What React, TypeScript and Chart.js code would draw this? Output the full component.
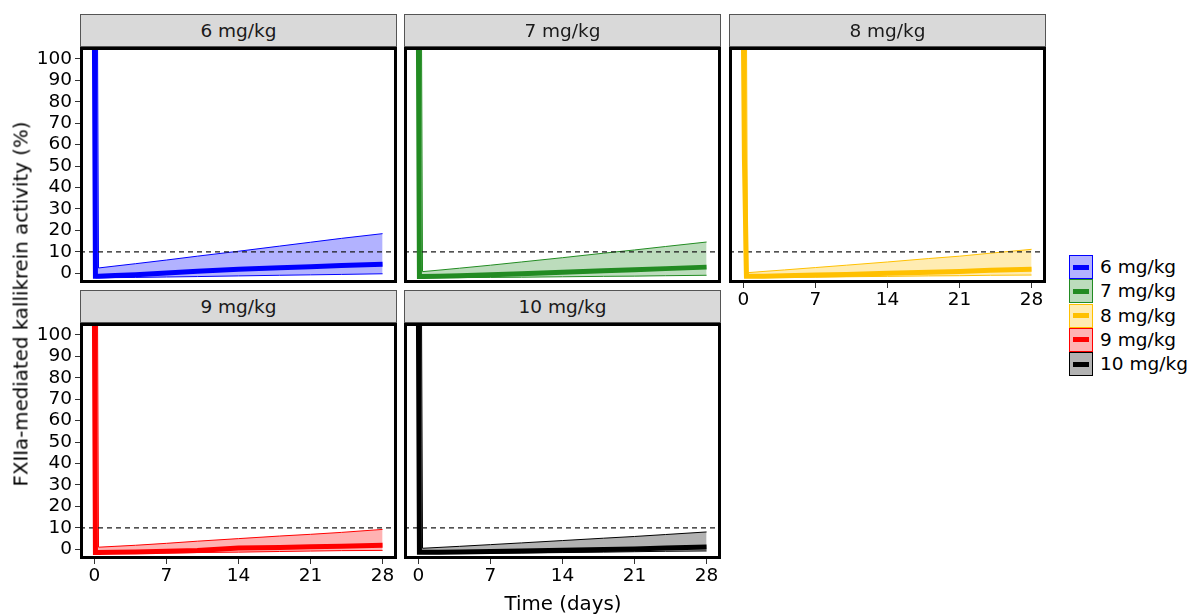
import React, { useEffect, useRef } from "react";
import { Chart, registerables } from "chart.js";

Chart.register(...registerables);

// ---------- data ----------
const times = [0, 0.1, 0.3, 0.4, 2, 4, 7, 10, 14, 18, 21, 24, 28];
const xTicks = [0, 7, 14, 21, 28];
const yTicks = [0, 10, 20, 30, 40, 50, 60, 70, 80, 90, 100];
const threshold = 10;
const doseLabels = ["6 mg/kg", "7 mg/kg", "8 mg/kg", "9 mg/kg", "10 mg/kg"];

const median6 = [110, -1.4, -1.4, -1.4, -1.0, -0.6, 0.2, 1.0, 1.9, 2.6, 3.1, 3.6, 4.2];
const lower6 = [100, -2.1, -2.1, -2.1, -2.0, -1.9, -1.7, -1.5, -1.2, -0.9, -0.7, -0.5, -0.2];
const upper6 = [110, 110, 110, 2.5, 3.4, 4.5, 6.2, 8.0, 10.3, 12.7, 14.5, 16.3, 18.5];

const median7 = [110, -1.5, -1.5, -1.5, -1.3, -1.1, -0.7, -0.2, 0.5, 1.2, 1.7, 2.2, 2.9];
const lower7 = [100, -2.1, -2.1, -2.1, -2.0, -2.0, -1.9, -1.8, -1.6, -1.4, -1.3, -1.1, -0.9];
const upper7 = [110, 110, 110, 0.8, 1.5, 2.4, 3.8, 5.3, 7.3, 9.4, 10.9, 12.5, 14.6];

const median8 = [110, 53, -1.4, -1.4, -1.3, -1.1, -0.8, -0.5, 0.0, 0.5, 0.9, 1.4, 1.9];
const lower8 = [100, -2.0, -2.0, -2.0, -2.0, -1.9, -1.8, -1.6, -1.4, -1.2, -1.1, -0.9, -0.8];
const upper8 = [110, 110, 110, 0.3, 0.9, 1.6, 2.7, 3.8, 5.3, 6.9, 8.0, 9.4, 11.2];

const median9 = [110, -1.5, -1.5, -1.5, -1.4, -1.2, -0.9, -0.5, 0.6, 0.9, 1.2, 1.5, 1.9];
const lower9 = [100, -2.0, -2.0, -2.0, -1.9, -1.8, -1.7, -1.5, -1.3, -1.0, -0.8, -0.6, -0.5];
const upper9 = [110, 110, 110, 1.0, 1.4, 1.9, 2.8, 3.8, 5.0, 6.2, 7.0, 7.9, 9.3];

const median10 = [110, -1.4, -1.4, -1.4, -1.3, -1.2, -1.0, -0.8, -0.4, -0.1, 0.2, 0.6, 1.1];
const lower10 = [100, -2.0, -2.0, -2.0, -2.0, -1.9, -1.8, -1.7, -1.5, -1.3, -1.1, -0.9, -0.75];
const upper10 = [110, 110, 110, 0.5, 0.9, 1.4, 2.2, 3.0, 4.1, 5.2, 6.0, 6.9, 8.1];

const lineColors = ["#0000FF", "#228B22", "#FFC000", "#FF0000", "#000000"];
const fillColors = [
  "rgba(0,0,255,0.3)",
  "rgba(34,139,34,0.3)",
  "rgba(255,192,0,0.3)",
  "rgba(255,0,0,0.3)",
  "rgba(0,0,0,0.3)",
];

const medians = [median6, median7, median8, median9, median10];
const lowers = [lower6, lower7, lower8, lower9, lower10];
const uppers = [upper6, upper7, upper8, upper9, upper10];

// axis limits
const X_MIN = -1.4;
const X_MAX = 29.4;
const Y_MIN = -4.5;
const Y_MAX = 105.5;

// ---------- layout ----------
const FONT = "'DejaVu Sans', Verdana, sans-serif";
const FS = 18.5;
const TITLE_FS = 19.8;
const COL_L = [80, 404, 729];
const ROW_T = [47, 323];
const PW = 317;
const PH = 236;
const STRIP_H = 33;
const AXW = 60;
const AXH = 40;
const PAD = 4;

const panelPos = [
  { col: 0, row: 0, showX: false, showY: true },
  { col: 1, row: 0, showX: false, showY: false },
  { col: 2, row: 0, showX: true, showY: false },
  { col: 0, row: 1, showX: true, showY: true },
  { col: 1, row: 1, showX: true, showY: false },
];

const toPts = (ys: number[]) => ys.map((y, i) => ({ x: times[i], y }));

const borderPlugin = {
  id: "panelBorder",
  afterDraw(chart: any) {
    const { ctx, chartArea } = chart;
    ctx.save();
    ctx.strokeStyle = "#000";
    ctx.lineWidth = 3;
    ctx.strokeRect(
      chartArea.left + 1.5,
      chartArea.top + 1.5,
      chartArea.right - chartArea.left - 3,
      chartArea.bottom - chartArea.top - 3
    );
    ctx.restore();
  },
};

function Panel({ idx }: { idx: number }) {
  const ref = useRef<HTMLCanvasElement | null>(null);
  const pos = panelPos[idx];
  const L = COL_L[pos.col];
  const T = ROW_T[pos.row];
  const cw = AXW + PW + PAD;
  const ch = PAD + PH + AXH;

  useEffect(() => {
    const color = lineColors[idx];
    const fill = fillColors[idx];
    const chart = new Chart(ref.current as HTMLCanvasElement, {
      type: "line",
      data: {
        datasets: [
          {
            label: "lower",
            data: toPts(lowers[idx]),
            borderColor: color,
            borderWidth: 1,
            backgroundColor: fill,
            pointRadius: 0,
            fill: false,
            clip: 0,
            order: 3,
          },
          {
            label: "upper",
            data: toPts(uppers[idx]),
            borderColor: color,
            borderWidth: 1,
            backgroundColor: fill,
            pointRadius: 0,
            fill: 0,
            clip: 0,
            order: 2,
          },
          {
            label: "threshold",
            data: [
              { x: X_MIN, y: threshold },
              { x: X_MAX, y: threshold },
            ],
            borderColor: "#1A1A1A",
            borderWidth: 1.2,
            borderDash: [5, 4],
            pointRadius: 0,
            fill: false,
            clip: 0,
            order: 1,
          },
          {
            label: doseLabels[idx],
            data: toPts(medians[idx]),
            borderColor: color,
            borderWidth: 5,
            pointRadius: 0,
            fill: false,
            clip: 0,
            borderJoinStyle: "miter",
            order: 0,
          },
        ] as any,
      },
      options: {
        responsive: false,
        animation: false,
        events: [],
        layout: {
          autoPadding: false,
          padding: { top: PAD, right: PAD, left: 0, bottom: 0 },
        } as any,
        plugins: {
          legend: { display: false },
          tooltip: { enabled: false },
          title: { display: false },
        },
        scales: {
          x: {
            type: "linear",
            min: X_MIN,
            max: X_MAX,
            display: pos.showX,
            offset: false,
            afterBuildTicks: (s: any) => {
              s.ticks = xTicks.map((v) => ({ value: v }));
            },
            afterFit: (s: any) => {
              s.height = AXH;
              s.paddingLeft = 0;
              s.paddingRight = 0;
              s.paddingTop = 0;
              s.paddingBottom = 0;
            },
            grid: {
              drawOnChartArea: false,
              drawTicks: true,
              tickLength: 5,
              color: "#333333",
              lineWidth: 1,
            },
            border: { display: false },
            ticks: {
              autoSkip: false,
              maxRotation: 0,
              padding: 1,
              color: "#000",
              font: { family: FONT, size: FS },
            },
          },
          y: {
            type: "linear",
            min: Y_MIN,
            max: Y_MAX,
            display: pos.showY,
            afterBuildTicks: (s: any) => {
              s.ticks = yTicks.map((v) => ({ value: v }));
            },
            afterFit: (s: any) => {
              s.width = AXW;
              s.paddingLeft = 0;
              s.paddingRight = 0;
              s.paddingTop = 0;
              s.paddingBottom = 0;
            },
            grid: {
              drawOnChartArea: false,
              drawTicks: true,
              tickLength: 5,
              color: "#333333",
              lineWidth: 1,
            },
            border: { display: false },
            ticks: {
              autoSkip: false,
              padding: 3,
              color: "#000",
              font: { family: FONT, size: FS },
            },
          },
        },
      } as any,
      plugins: [borderPlugin],
    });
    return () => chart.destroy();
  }, [idx]);

  return (
    <canvas
      ref={ref}
      width={cw}
      height={ch}
      style={{
        position: "absolute",
        left: L - AXW,
        top: T - PAD,
        width: cw,
        height: ch,
      }}
    />
  );
}

function Strip({ idx }: { idx: number }) {
  const pos = panelPos[idx];
  return (
    <div
      style={{
        position: "absolute",
        left: COL_L[pos.col],
        top: ROW_T[pos.row] - STRIP_H,
        width: PW,
        height: STRIP_H,
        boxSizing: "border-box",
        border: "1px solid #555555",
        background: "#D9D9D9",
        color: "#1A1A1A",
        fontSize: FS,
        lineHeight: `${STRIP_H - 2}px`,
        textAlign: "center",
        fontFamily: FONT,
      }}
    >
      {doseLabels[idx]}
    </div>
  );
}

export default function App() {
  return (
    <div
      style={{
        position: "absolute",
        left: 0,
        top: 0,
        width: 1190,
        height: 614,
        background: "#fff",
        fontFamily: FONT,
        overflow: "hidden",
      }}
    >
      {doseLabels.map((_, i) => (
        <Panel key={"p" + i} idx={i} />
      ))}
      {doseLabels.map((_, i) => (
        <Strip key={"s" + i} idx={i} />
      ))}
      <div
        style={{
          position: "absolute",
          left: 21,
          top: 304,
          transform: "translate(-50%, -50%) rotate(-90deg)",
          whiteSpace: "nowrap",
          fontSize: TITLE_FS,
          color: "#000",
        }}
      >
        FXIIa-mediated kallikrein activity (%)
      </div>
      <div
        style={{
          position: "absolute",
          left: 563,
          top: 603,
          transform: "translate(-50%, -50%)",
          whiteSpace: "nowrap",
          fontSize: TITLE_FS,
          color: "#000",
        }}
      >
        Time (days)
      </div>
      {doseLabels.map((lab, i) => (
        <React.Fragment key={"l" + i}>
          <div
            style={{
              position: "absolute",
              left: 1069,
              top: 255 + i * 24.3,
              width: 24,
              height: 24,
              boxSizing: "border-box",
              border: `1px solid ${lineColors[i]}`,
              background: fillColors[i],
            }}
          >
            <div
              style={{
                position: "absolute",
                left: 3,
                right: 3,
                top: 8.5,
                height: 5,
                background: lineColors[i],
              }}
            />
          </div>
          <div
            style={{
              position: "absolute",
              left: 1100,
              top: 255 + i * 24.3,
              height: 24,
              lineHeight: "24px",
              fontSize: FS,
              color: "#000",
              whiteSpace: "nowrap",
            }}
          >
            {lab}
          </div>
        </React.Fragment>
      ))}
    </div>
  );
}
